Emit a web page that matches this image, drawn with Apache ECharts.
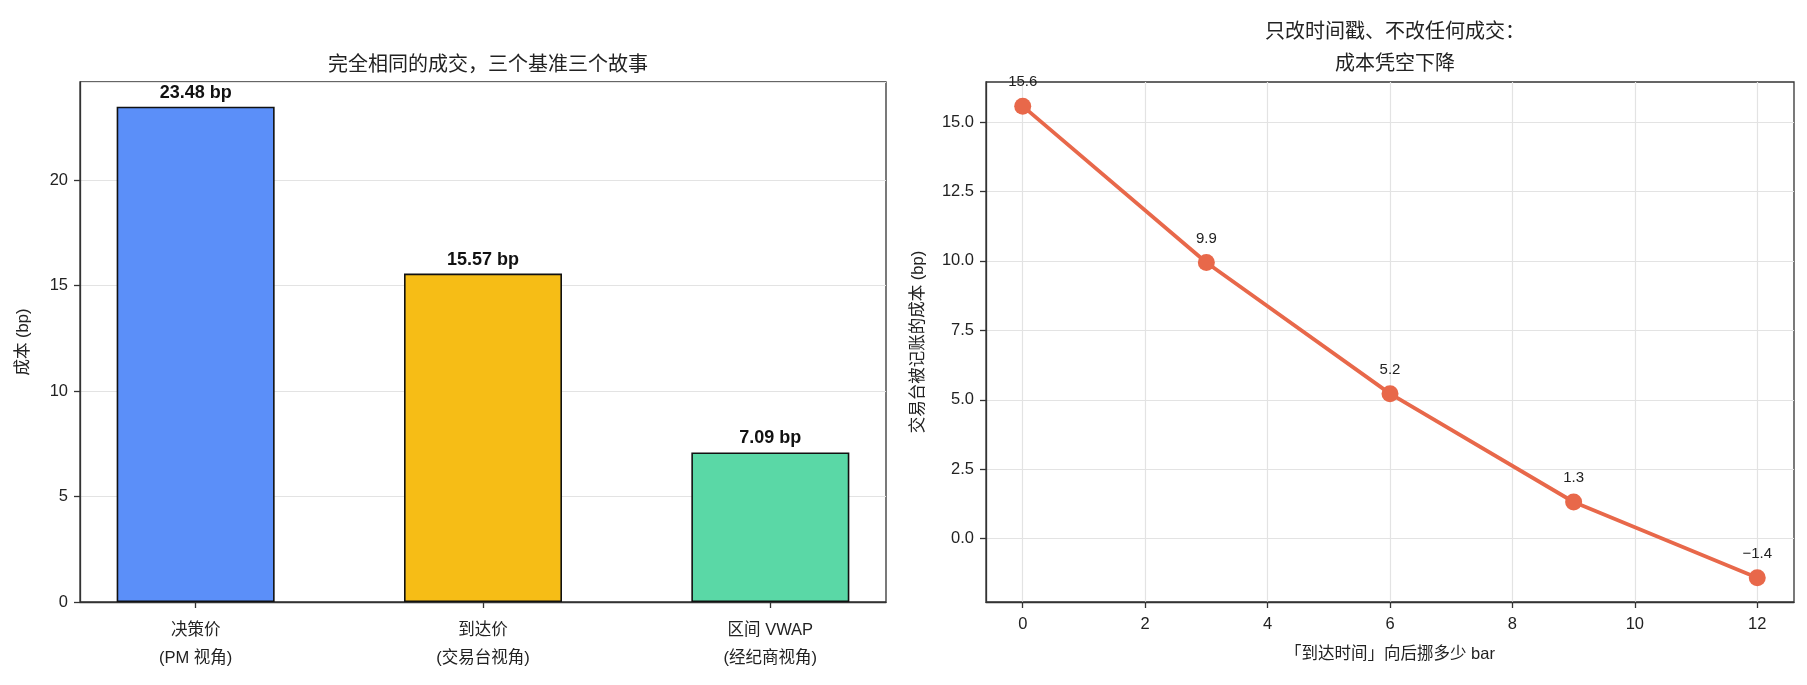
<!DOCTYPE html>
<html>
<head>
<meta charset="utf-8">
<script src="https://cdn.jsdelivr.net/npm/echarts@6/dist/echarts.min.js"></script>
<style>
html,body{margin:0;padding:0;background:#fff;}
#c{width:1807px;height:685px;}
</style>
</head>
<body>
<div id="c"></div>
<script>
// ---- data ----
const categories = ['决策价\n(PM 视角)', '到达价\n(交易台视角)', '区间 VWAP\n(经纪商视角)'];
const benchmarkCost = [23.48, 15.57, 7.09];
const barColors = ['#5b8ff9', '#f6bd16', '#5ad8a6'];
const leftTitle = '完全相同的成交，三个基准三个故事';
const rightTitle = '只改时间戳、不改任何成交：\n成本凭空下降';
const shiftBars = [0, 3, 6, 9, 12];
const bookedCost = [15.57, 9.94, 5.22, 1.32, -1.41];
const rightXTicks = [0, 2, 4, 6, 8, 10, 12];
const rightYTicks = [0, 2.5, 5, 7.5, 10, 12.5, 15];

const FONT = "'Liberation Sans', 'Noto Sans CJK SC', sans-serif";
const TXT = '#222';
const AX = '#333';
const GRIDC = '#e3e3e3';

const chart = echarts.init(document.getElementById('c'), null, {renderer: 'canvas'});

const axisLineStyle = {show: true, onZero: false, lineStyle: {color: AX, width: 1.3}};
const tickStyle = {show: true, inside: false, length: 6, lineStyle: {color: AX, width: 1.3}};

const option = {
  backgroundColor: '#fff',
  textStyle: {fontFamily: FONT},
  animation: false,
  title: [
    {text: leftTitle, left: 483, top: 50, textAlign: 'center',
     textStyle: {fontFamily: FONT, fontSize: 20, fontWeight: 'normal', color: TXT}},
    {text: rightTitle, left: 1390, top: 11, textAlign: 'center',
     textStyle: {fontFamily: FONT, fontSize: 20, fontWeight: 'normal', color: TXT, lineHeight: 32}}
  ],
  grid: [
    {left: 80, top: 82, width: 806, height: 520, show: true, borderColor: AX, borderWidth: 1.3, backgroundColor: 'transparent'},
    {left: 986, top: 82, width: 808, height: 520, show: true, borderColor: AX, borderWidth: 1.3, backgroundColor: 'transparent'}
  ],
  xAxis: [
    {type: 'value', gridIndex: 0, min: -0.4025, max: 2.4025,
     axisLine: axisLineStyle,
     axisTick: Object.assign({}, tickStyle, {customValues: [0, 1, 2]}),
     splitLine: {show: false},
     axisLabel: {customValues: [0, 1, 2], margin: 14, color: TXT, fontSize: 16.5, lineHeight: 28, fontFamily: FONT,
       formatter: v => categories[Math.round(v)] || ''}},
    {type: 'value', gridIndex: 1, min: -0.6, max: 12.6,
     name: '「到达时间」向后挪多少 bar', nameLocation: 'middle', nameGap: 44,
     nameTextStyle: {color: TXT, fontSize: 16.5, fontFamily: FONT},
     axisLine: axisLineStyle,
     axisTick: Object.assign({}, tickStyle, {customValues: rightXTicks}),
     splitLine: {show: true, lineStyle: {color: GRIDC, width: 1.2}},
     axisLabel: {customValues: rightXTicks, margin: 14, color: TXT, fontSize: 16.5, fontFamily: FONT}}
  ],
  yAxis: [
    {type: 'value', gridIndex: 0, min: 0, max: 24.654, interval: 5,
     name: '成本 (bp)', nameLocation: 'middle', nameRotate: 90, nameGap: 48,
     nameTextStyle: {color: TXT, fontSize: 16.5, fontFamily: FONT},
     axisLine: axisLineStyle, axisTick: tickStyle,
     splitLine: {show: true, lineStyle: {color: GRIDC, width: 1.2}},
     axisLabel: {margin: 12, color: TXT, fontSize: 16.5, fontFamily: FONT, showMaxLabel: false,
       formatter: v => (v > 24 ? '' : String(v))}},
    {type: 'value', gridIndex: 1, min: -2.28, max: 16.44,
     name: '交易台被记账的成本 (bp)', nameLocation: 'middle', nameRotate: 90, nameGap: 59,
     nameTextStyle: {color: TXT, fontSize: 16.5, fontFamily: FONT},
     axisLine: axisLineStyle,
     axisTick: Object.assign({}, tickStyle, {customValues: rightYTicks}),
     splitLine: {show: true, lineStyle: {color: GRIDC, width: 1.2}},
     axisLabel: {customValues: rightYTicks, margin: 12, color: TXT, fontSize: 16.5, fontFamily: FONT,
       formatter: v => v.toFixed(1)}}
  ],
  series: [
    {type: 'bar', xAxisIndex: 0, yAxisIndex: 0, barWidth: 158,
     data: benchmarkCost.map((v, i) => ({value: [i, v],
       itemStyle: {color: barColors[i], borderColor: '#111', borderWidth: 1.6}})),
     label: {show: true, position: 'top', distance: 5, color: '#111', fontSize: 18, fontWeight: 'bold', fontFamily: FONT,
       formatter: p => p.value[1].toFixed(2) + ' bp'}},
    {type: 'line', xAxisIndex: 1, yAxisIndex: 1,
     data: shiftBars.map((x, i) => [x, bookedCost[i]]),
     symbol: 'circle', symbolSize: 17,
     lineStyle: {color: '#e8684a', width: 3.8},
     itemStyle: {color: '#e8684a'},
     label: {show: true, position: 'top', distance: 8, color: '#222', fontSize: 15, fontFamily: FONT,
       formatter: p => p.value[1].toFixed(1).replace('-', '−')}}
  ]
};
chart.setOption(option);
</script>
</body>
</html>
